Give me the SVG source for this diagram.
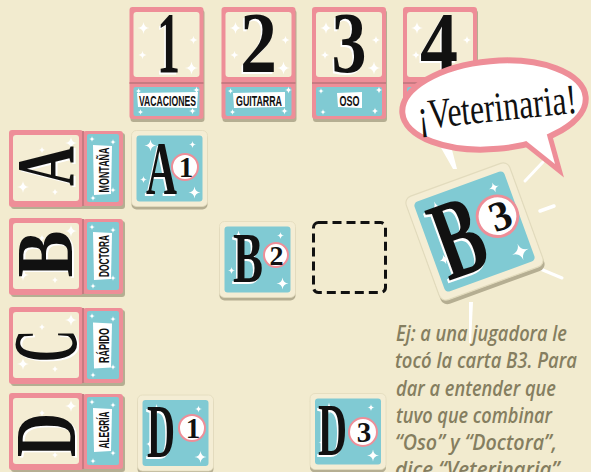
<svg xmlns="http://www.w3.org/2000/svg" width="591" height="472" viewBox="0 0 591 472">
<defs>
<style>
.pink{fill:#ee8e98}
.cream{fill:#f4edd4}
.blue{fill:#80cad3}
.shadow{fill:#b5ae92}
.big{font-family:"Liberation Serif",serif;font-weight:bold;text-anchor:middle;fill:#111}
.bw{fill:#fff}
.lbl{font-family:"Liberation Sans",sans-serif;font-weight:bold;font-size:15px;text-anchor:middle;fill:#111}
.lblbox{fill:#fff}
.note{font-family:"Open Sans","Liberation Sans",sans-serif;font-style:italic;font-weight:600;font-size:21px;fill:#857e60}
.ray{fill:#fff}
.sup{fill:#fff;stroke:#ee8e98;stroke-width:2}
</style>
<path id="star" d="M0,-6 Q0.5,-0.5 6,0 Q0.5,0.5 0,6 Q-0.5,0.5 -6,0 Q-0.5,-0.5 0,-6Z" fill="#fff"/>
<g id="topFrame">
  <rect x="1" y="3" width="74" height="112" rx="3" class="shadow"/>
  <rect x="0" y="0" width="74" height="112" rx="3" class="pink"/>
  <rect x="0" y="75" width="74" height="2" fill="#c97a82"/>
  <rect x="4" y="5" width="66" height="65" rx="3" class="cream"/>
  <rect x="4" y="80" width="66" height="29" rx="2" class="blue"/>
  <use href="#star" transform="translate(14,21) scale(1)"/>
  <use href="#star" transform="translate(64,33) scale(0.7)"/>
  <use href="#star" transform="translate(13,48) scale(0.7)"/>
  <use href="#star" transform="translate(62,61) scale(1.1)"/>
  <use href="#star" transform="translate(9,84) scale(0.5)"/>
  <use href="#star" transform="translate(67,83) scale(0.6)"/>
  <use href="#star" transform="translate(11,105) scale(0.5)"/>
  <use href="#star" transform="translate(63,104) scale(0.6)"/>
</g>
<g id="leftFrame">
  <rect x="2" y="3" width="114" height="76" rx="3" class="shadow"/>
  <rect x="0" y="0" width="74" height="77" rx="3" class="pink"/>
  <rect x="74" y="1" width="40" height="75" rx="3" class="pink"/>
  <rect x="73" y="1" width="2" height="75" fill="#c97a82"/>
  <rect x="4" y="5" width="66" height="66" rx="3" class="cream"/>
  <rect x="78" y="4" width="32" height="68" rx="2" class="blue"/>
  <use href="#star" transform="translate(33,20) scale(0.6)"/>
  <use href="#star" transform="translate(62,13) scale(1)"/>
  <use href="#star" transform="translate(14,57) scale(1)"/>
  <use href="#star" transform="translate(46,62) scale(0.6)"/>
  <use href="#star" transform="translate(83,9) scale(0.5)"/>
  <use href="#star" transform="translate(104,12) scale(0.5)"/>
  <use href="#star" transform="translate(104,60) scale(0.5)"/>
  <use href="#star" transform="translate(84,68) scale(0.5)"/>
</g>
<g id="tile">
  <rect x="-38" y="-35" width="76" height="76" rx="5" class="shadow"/>
  <rect x="-38" y="-38" width="76" height="76" rx="5" class="cream" stroke="#e2dbbd" stroke-width="0.8"/>
  <rect x="-33" y="-33" width="66" height="66" rx="3" class="blue"/>
  <use href="#star" transform="translate(-19,-23) scale(1)"/>
  <use href="#star" transform="translate(-26,11) scale(0.6)"/>
  <use href="#star" transform="translate(25,24) scale(1)"/>
  <use href="#star" transform="translate(23,-24) scale(0.6)"/>
</g>
</defs>

<rect x="0" y="0" width="591" height="472" fill="#f2ebcf"/>

<!-- top cards -->
<g id="card-1">
  <use href="#topFrame" x="129.5" y="7"/>
  <text class="big bw" x="167" y="73.5" font-size="86" textLength="23" lengthAdjust="spacingAndGlyphs">1</text>
  <text class="big" x="168.5" y="72" font-size="86" textLength="23" lengthAdjust="spacingAndGlyphs">1</text>
  <polygon class="lblbox" points="137,93 198,92 197,108 138,107"/>
  <text class="lbl" x="167.5" y="106" textLength="57" lengthAdjust="spacingAndGlyphs">VACACIONES</text>
</g>
<g id="card-2">
  <use href="#topFrame" x="221.5" y="7"/>
  <text class="big bw" x="257" y="73.5" font-size="86" textLength="37" lengthAdjust="spacingAndGlyphs">2</text>
  <text class="big" x="258.5" y="72" font-size="86" textLength="37" lengthAdjust="spacingAndGlyphs">2</text>
  <polygon class="lblbox" points="233,93 285,92 285,107 234,108"/>
  <text class="lbl" x="259" y="106" textLength="46" lengthAdjust="spacingAndGlyphs">GUITARRA</text>
</g>
<g id="card-3">
  <use href="#topFrame" x="312" y="7"/>
  <text class="big bw" x="347.5" y="73.5" font-size="86" textLength="35" lengthAdjust="spacingAndGlyphs">3</text>
  <text class="big" x="349" y="72" font-size="86" textLength="35" lengthAdjust="spacingAndGlyphs">3</text>
  <polygon class="lblbox" points="337,93 362,92 362,108 338,107"/>
  <text class="lbl" x="349.5" y="106" textLength="20" lengthAdjust="spacingAndGlyphs">OSO</text>
</g>
<g id="card-4">
  <use href="#topFrame" x="403" y="7"/>
  <text class="big bw" x="437.5" y="73.5" font-size="86" textLength="38" lengthAdjust="spacingAndGlyphs">4</text>
  <text class="big" x="439" y="72" font-size="86" textLength="38" lengthAdjust="spacingAndGlyphs">4</text>
</g>

<!-- left cards -->
<g id="card-A">
  <use href="#leftFrame" x="9" y="130"/>
  <g transform="translate(45.5,166) rotate(-90)">
    <text class="big bw" x="-1.5" y="29" font-size="83" textLength="40" lengthAdjust="spacingAndGlyphs">A</text>
    <text class="big" x="0" y="27.5" font-size="83" textLength="40" lengthAdjust="spacingAndGlyphs">A</text>
  </g>
  <g transform="translate(103,170) rotate(-90)">
    <polygon class="lblbox" points="-25,-9 25,-10 24,9 -24,8"/>
    <text class="lbl" x="0" y="5.5" textLength="45" lengthAdjust="spacingAndGlyphs">MONTAÑA</text>
  </g>
</g>
<g id="card-B">
  <use href="#leftFrame" x="9" y="218"/>
  <g transform="translate(45,254) rotate(-90)">
    <text class="big bw" x="-1.5" y="28.5" font-size="81" textLength="47" lengthAdjust="spacingAndGlyphs">B</text>
    <text class="big" x="0" y="27" font-size="81" textLength="47" lengthAdjust="spacingAndGlyphs">B</text>
  </g>
  <g transform="translate(103,256) rotate(-90)">
    <polygon class="lblbox" points="-24,-9 24,-10 23,9 -23,8"/>
    <text class="lbl" x="0" y="5.5" textLength="42" lengthAdjust="spacingAndGlyphs">DOCTORA</text>
  </g>
</g>
<g id="card-C">
  <use href="#leftFrame" x="9" y="307"/>
  <g transform="translate(46.5,346) rotate(-90)">
    <text class="big bw" x="-1.5" y="31" font-size="90" textLength="32" lengthAdjust="spacingAndGlyphs">C</text>
    <text class="big" x="0" y="29.5" font-size="90" textLength="32" lengthAdjust="spacingAndGlyphs">C</text>
  </g>
  <g transform="translate(103,345.5) rotate(-90)">
    <polygon class="lblbox" points="-23,-9 23,-10 22,9 -22,8"/>
    <text class="lbl" x="0" y="5.5" textLength="35" lengthAdjust="spacingAndGlyphs">RÁPIDO</text>
  </g>
</g>
<g id="card-D">
  <use href="#leftFrame" x="9" y="393"/>
  <g transform="translate(46.5,435) rotate(-90)">
    <text class="big bw" x="-1.5" y="30" font-size="86" textLength="44" lengthAdjust="spacingAndGlyphs">D</text>
    <text class="big" x="0" y="28.5" font-size="86" textLength="44" lengthAdjust="spacingAndGlyphs">D</text>
  </g>
  <g transform="translate(103,430) rotate(-90)">
    <polygon class="lblbox" points="-22,-9 22,-10 21,9 -21,8"/>
    <text class="lbl" x="0" y="5.5" textLength="37" lengthAdjust="spacingAndGlyphs">ALEGRÍA</text>
  </g>
</g>

<!-- placed tiles -->
<g id="tile-A1">
  <use href="#tile" x="169.5" y="168.5"/>
  <circle class="sup" cx="185" cy="167" r="13"/>
  <text class="big bw" x="160" y="195.5" font-size="77" textLength="31" lengthAdjust="spacingAndGlyphs">A</text>
  <text class="big" x="161.5" y="194" font-size="77" textLength="31" lengthAdjust="spacingAndGlyphs">A</text>
  <text class="big" x="186" y="177" font-size="29">1</text>
</g>
<g id="tile-B2">
  <use href="#tile" x="257.5" y="259.5"/>
  <circle class="sup" cx="276" cy="255" r="12"/>
  <text class="big bw" x="246.5" y="283.5" font-size="71" textLength="30" lengthAdjust="spacingAndGlyphs">B</text>
  <text class="big" x="248" y="282" font-size="71" textLength="30" lengthAdjust="spacingAndGlyphs">B</text>
  <text class="big" x="276.5" y="265" font-size="28">2</text>
</g>
<g id="tile-D1">
  <use href="#tile" x="175.5" y="433"/>
  <circle class="sup" cx="192" cy="428" r="13"/>
  <text class="big bw" x="159.5" y="458.5" font-size="76" textLength="28" lengthAdjust="spacingAndGlyphs">D</text>
  <text class="big" x="161" y="457" font-size="76" textLength="28" lengthAdjust="spacingAndGlyphs">D</text>
  <text class="big" x="193" y="438" font-size="29">1</text>
</g>
<g id="tile-D3">
  <use href="#tile" x="348" y="431.5"/>
  <circle class="sup" cx="363" cy="432" r="14"/>
  <text class="big bw" x="331" y="456.5" font-size="73" textLength="29" lengthAdjust="spacingAndGlyphs">D</text>
  <text class="big" x="332.5" y="455" font-size="73" textLength="29" lengthAdjust="spacingAndGlyphs">D</text>
  <text class="big" x="364" y="442" font-size="29">3</text>
</g>
<g id="slot-empty">
  <rect x="313.5" y="222.5" width="72" height="70" rx="5" fill="none" stroke="#111" stroke-width="3" stroke-dasharray="9 5"/>
</g>

<!-- rays -->
<g id="rays">
  <polygon class="ray" points="440,146 451,146 457,169 453,169"/>
  <line x1="525" y1="181" x2="543" y2="162" stroke="#fff" stroke-width="3" stroke-linecap="round"/>
  <line x1="540" y1="211" x2="554" y2="206" stroke="#fff" stroke-width="3.5" stroke-linecap="round"/>
  <line x1="538" y1="268" x2="562" y2="278" stroke="#fff" stroke-width="3" stroke-linecap="round"/>
  <polygon class="ray" points="469,302 473,302 471,343 469,343"/>
</g>

<!-- tilted B3 -->
<g id="tile-B3" transform="translate(474.5,231.5) rotate(-20) scale(1.45)">
  <use href="#tile"/>
  <circle class="sup" cx="18.5" cy="-4.5" r="14"/>
  <text class="big bw" x="-13.5" y="27.5" font-size="78" textLength="33" lengthAdjust="spacingAndGlyphs">B</text>
  <text class="big" x="-12" y="26" font-size="78" textLength="33" lengthAdjust="spacingAndGlyphs">B</text>
  <text class="big" x="20.5" y="5.5" font-size="29">3</text>
</g>

<!-- speech bubble -->
<g id="bubble">
  <polygon points="520,136 555,164 545,128" fill="#fff" stroke="#ee8e98" stroke-width="10" stroke-linejoin="miter" stroke-miterlimit="20"/>
  <ellipse cx="494" cy="105" rx="92" ry="44" transform="rotate(-5 494 105)" fill="#fff" stroke="#ee8e98" stroke-width="6"/>
  <polygon points="520,136 555,164 545,128" fill="#fff"/>
  <text transform="rotate(-6 497 107)" x="497" y="121" font-family="Liberation Serif, serif" font-size="42" text-anchor="middle" fill="#111" textLength="160" lengthAdjust="spacingAndGlyphs">¡Veterinaria!</text>
</g>

<!-- note -->
<g id="note">
  <text class="note" x="396" y="341" textLength="171" lengthAdjust="spacingAndGlyphs">Ej: a una jugadora le</text>
  <text class="note" x="395" y="368" textLength="182" lengthAdjust="spacingAndGlyphs">tocó la carta B3. Para</text>
  <text class="note" x="396" y="396" textLength="160" lengthAdjust="spacingAndGlyphs">dar a entender que</text>
  <text class="note" x="396" y="423" textLength="156" lengthAdjust="spacingAndGlyphs">tuvo que combinar</text>
  <text class="note" x="395" y="450" textLength="162" lengthAdjust="spacingAndGlyphs">“Oso” y “Doctora”,</text>
  <text class="note" x="395" y="477" textLength="170" lengthAdjust="spacingAndGlyphs">dice “Veterinaria”.</text>
</g>
</svg>
